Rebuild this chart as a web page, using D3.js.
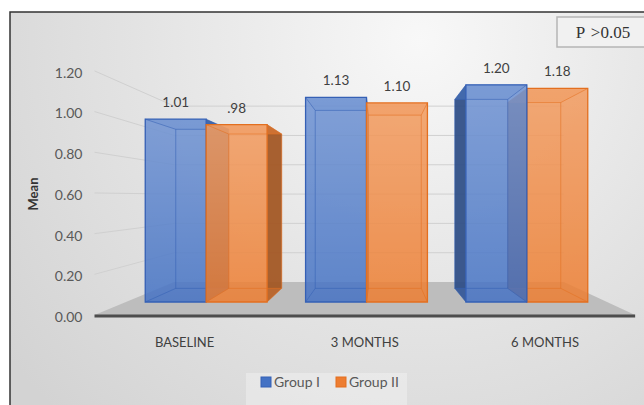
<!DOCTYPE html>
<html><head><meta charset="utf-8">
<script src="https://cdn.jsdelivr.net/npm/d3@7"></script>
<style>html,body{margin:0;padding:0;background:#fff;}svg{display:block;}</style>
</head><body>
<script>
// ---- data ----
const categories = ["BASELINE", "3 MONTHS", "6 MONTHS"];
const seriesNames = ["Group I", "Group II"];
const group1 = [1.01, 1.13, 1.20];
const group2 = [0.98, 1.10, 1.18];
const yTicks = [0, 0.2, 0.4, 0.6, 0.8, 1.0, 1.2];
const yTitle = "Mean";
const noteText = "P >0.05";
const seriesColors = ["#4472c4", "#ed7d31"];
const edgeColors = ["#3560b5", "#e36f1f"];

const W = 644, H = 405;
const svg = d3.select("body").append("svg").attr("width", W).attr("height", H);
const defs = svg.append("defs");
const bg = defs.append("radialGradient").attr("id", "bg").attr("gradientUnits", "userSpaceOnUse")
  .attr("cx", 420).attr("cy", 40).attr("r", 520);
bg.append("stop").attr("offset", 0).attr("stop-color", "#f8f8f8");
bg.append("stop").attr("offset", 0.55).attr("stop-color", "#e3e3e3");
bg.append("stop").attr("offset", 1).attr("stop-color", "#d3d3d3");
const hl = defs.append("linearGradient").attr("id", "hl").attr("x1", 0).attr("y1", 0).attr("x2", 0).attr("y2", 1);
hl.append("stop").attr("offset", 0).attr("stop-color", "#fff").attr("stop-opacity", 0.22);
hl.append("stop").attr("offset", 1).attr("stop-color", "#fff").attr("stop-opacity", 0);

svg.append("rect").attr("width", W).attr("height", H).attr("fill", "#fff");
svg.append("rect").attr("x", 10).attr("y", 12).attr("width", 700).attr("height", 500)
  .attr("fill", "url(#bg)").attr("stroke", "#333").attr("stroke-width", 1.5);

// ---- 3D projection ----
const VP = {x: 380, y: 197};
const S_FRONT = 1, S_BACK = 0.87, S_FLOOR_F = 1.124, S_FLOOR_B = 0.81;
const proj = (X, Y, s) => [VP.x + (X - VP.x) * s, VP.y + (Y - VP.y) * s];

const x = d3.scaleBand().domain(categories).range([126, 607]).paddingInner(0.24).paddingOuter(0.12);
const xs = d3.scaleBand().domain(seriesNames).range([0, x.bandwidth()]);
const y = d3.scaleLinear().domain([0, 1.2]).range([302, 84.8]);
const XL = x.range()[0], XR = x.range()[1];

// gridlines on side + back wall
const grid = svg.append("g");
yTicks.filter(v => v > 0).forEach(v => {
  const a = proj(XL, y(v), S_FLOOR_F), b = proj(XL, y(v), S_FLOOR_B), c = proj(XR, y(v), S_FLOOR_B);
  grid.append("path").attr("d", d3.line()([a, b, c])).attr("fill", "none")
    .attr("stroke", "#d0d0d0").attr("stroke-width", 1);
});

// tick labels
const fmt = d3.format(".2f");
svg.append("g").selectAll("text").data(yTicks).join("text")
  .attr("x", d => proj(XL, y(d), S_FLOOR_F)[0] - 12)
  .attr("y", d => proj(XL, y(d), S_FLOOR_F)[1] + 2)
  .attr("dy", "0.35em").attr("text-anchor", "end")
  .attr("font-family", "Lato, sans-serif").attr("font-size", 14).attr("fill", "#595959")
  .text(d => fmt(d));

// floor
const floorPts = [proj(XL, y(0), S_FLOOR_F), proj(XR, y(0), S_FLOOR_F), proj(XR, y(0), S_FLOOR_B), proj(XL, y(0), S_FLOOR_B)];
svg.append("polygon").attr("points", floorPts.map(p => p.join(",")).join(" ")).attr("fill", "#bdbdbd");
svg.append("line").attr("x1", floorPts[0][0]).attr("y1", floorPts[0][1] + 1)
  .attr("x2", floorPts[1][0]).attr("y2", floorPts[1][1] + 1)
  .attr("stroke", "#4d4d4d").attr("stroke-width", 3);

// bars
const bars = [];
categories.forEach((c, i) => {
  [group1, group2].forEach((arr, j) => {
    const X0 = x(c) + xs(seriesNames[j]), X1 = X0 + xs.bandwidth();
    bars.push({c, j, v: arr[i], X0, X1});
  });
});
bars.sort((a, b) => Math.abs((b.X0 + b.X1) / 2 - VP.x) - Math.abs((a.X0 + a.X1) / 2 - VP.x));

const poly = (g, pts) => g.append("polygon").attr("points", pts.map(p => p.join(",")).join(" "));
const barG = svg.append("g");
bars.forEach(b => {
  const col = seriesColors[b.j], edge = edgeColors[b.j];
  const Yt = y(b.v), Yb = y(0);
  const F = {tl: proj(b.X0, Yt, S_FRONT), tr: proj(b.X1, Yt, S_FRONT), br: proj(b.X1, Yb, S_FRONT), bl: proj(b.X0, Yb, S_FRONT)};
  const B = {tl: proj(b.X0, Yt, S_BACK), tr: proj(b.X1, Yt, S_BACK), br: proj(b.X1, Yb, S_BACK), bl: proj(b.X0, Yb, S_BACK)};
  const g = barG.append("g");
  const dark = d3.color(col).darker(1.1).toString();
  poly(g, [B.tl, B.tr, B.br, B.bl]).attr("fill", col).attr("fill-opacity", 0.3);
  const leftVis = b.X0 > VP.x, rightVis = b.X1 < VP.x;
  poly(g, [F.tl, B.tl, B.bl, F.bl]).attr("fill", leftVis ? dark : col).attr("fill-opacity", leftVis ? 0.9 : 0.3);
  poly(g, [F.tr, B.tr, B.br, F.br]).attr("fill", rightVis ? dark : col).attr("fill-opacity", rightVis ? 0.9 : 0.3);
  poly(g, [F.tl, F.tr, B.tr, B.tl]).attr("fill", col).attr("fill-opacity", 0.55);
  poly(g, [F.bl, F.br, B.br, B.bl]).attr("fill", col).attr("fill-opacity", 0.3);
  poly(g, [F.tl, F.tr, F.br, F.bl]).attr("fill", col).attr("fill-opacity", 0.78);
  poly(g, [F.tl, F.tr, F.br, F.bl]).attr("fill", "url(#hl)");
  const inner = [[B.tl, B.tr, B.br, B.bl, B.tl], [F.tl, B.tl], [F.tr, B.tr], [F.br, B.br], [F.bl, B.bl]];
  inner.forEach(pts => g.append("path").attr("d", d3.line()(pts)).attr("fill", "none")
    .attr("stroke", edge).attr("stroke-opacity", 0.55).attr("stroke-width", 1));
  poly(g, [F.tl, F.tr, F.br, F.bl]).attr("fill", "none").attr("stroke", edge).attr("stroke-width", 1.3);
});

// value labels
const valFmt = v => { const s = d3.format(".2f")(v); return v < 1 ? s.replace(/^0/, "") : s; };
svg.append("g").selectAll("text").data(bars).join("text")
  .attr("x", d => (proj(d.X0, 0, S_FRONT)[0] + proj(d.X1, 0, S_FRONT)[0]) / 2)
  .attr("y", d => proj(d.X0, y(d.v), S_FRONT)[1] - 12)
  .attr("text-anchor", "middle").attr("font-family", "Lato, sans-serif").attr("font-size", 13.5)
  .attr("fill", "#404040").text(d => valFmt(d.v));

// category labels
svg.append("g").selectAll("text").data(categories).join("text")
  .attr("x", d => proj(x(d) + x.bandwidth() / 2, y(0), S_FLOOR_F)[0])
  .attr("y", 347).attr("text-anchor", "middle")
  .attr("font-family", "Lato, sans-serif").attr("font-size", 13).attr("fill", "#404040")
  .text(d => d);

// y title
svg.append("text").attr("transform", "translate(38,194) rotate(-90)")
  .attr("text-anchor", "middle").attr("font-family", "Lato, sans-serif").attr("font-weight", "bold")
  .attr("font-size", 13).attr("fill", "#333").text(yTitle);

// legend
const lg = svg.append("g");
lg.append("rect").attr("x", 246).attr("y", 373).attr("width", 161).attr("height", 40)
  .attr("fill", "#fff").attr("fill-opacity", 0.3);
const legX = [261, 336];
seriesNames.forEach((n, j) => {
  lg.append("rect").attr("x", legX[j]).attr("y", 377).attr("width", 10).attr("height", 10)
    .attr("fill", seriesColors[j]).attr("stroke", edgeColors[j]).attr("stroke-width", 1);
  lg.append("text").attr("x", legX[j] + 13).attr("y", 387)
    .attr("font-family", "Lato, sans-serif").attr("font-size", 14).attr("fill", "#595959").text(n);
});

// note box
svg.append("rect").attr("x", 557).attr("y", 17).attr("width", 100).attr("height", 30)
  .attr("fill", "#f1f1f1").attr("stroke", "#b5b5b5").attr("stroke-width", 1.5);
svg.append("text").attr("x", 603).attr("y", 38).attr("text-anchor", "middle")
  .attr("font-family", "'Liberation Serif', 'Times New Roman', serif")
  .attr("font-size", 17).attr("word-spacing", 2).attr("fill", "#333").text(noteText);
</script>
</body></html>
